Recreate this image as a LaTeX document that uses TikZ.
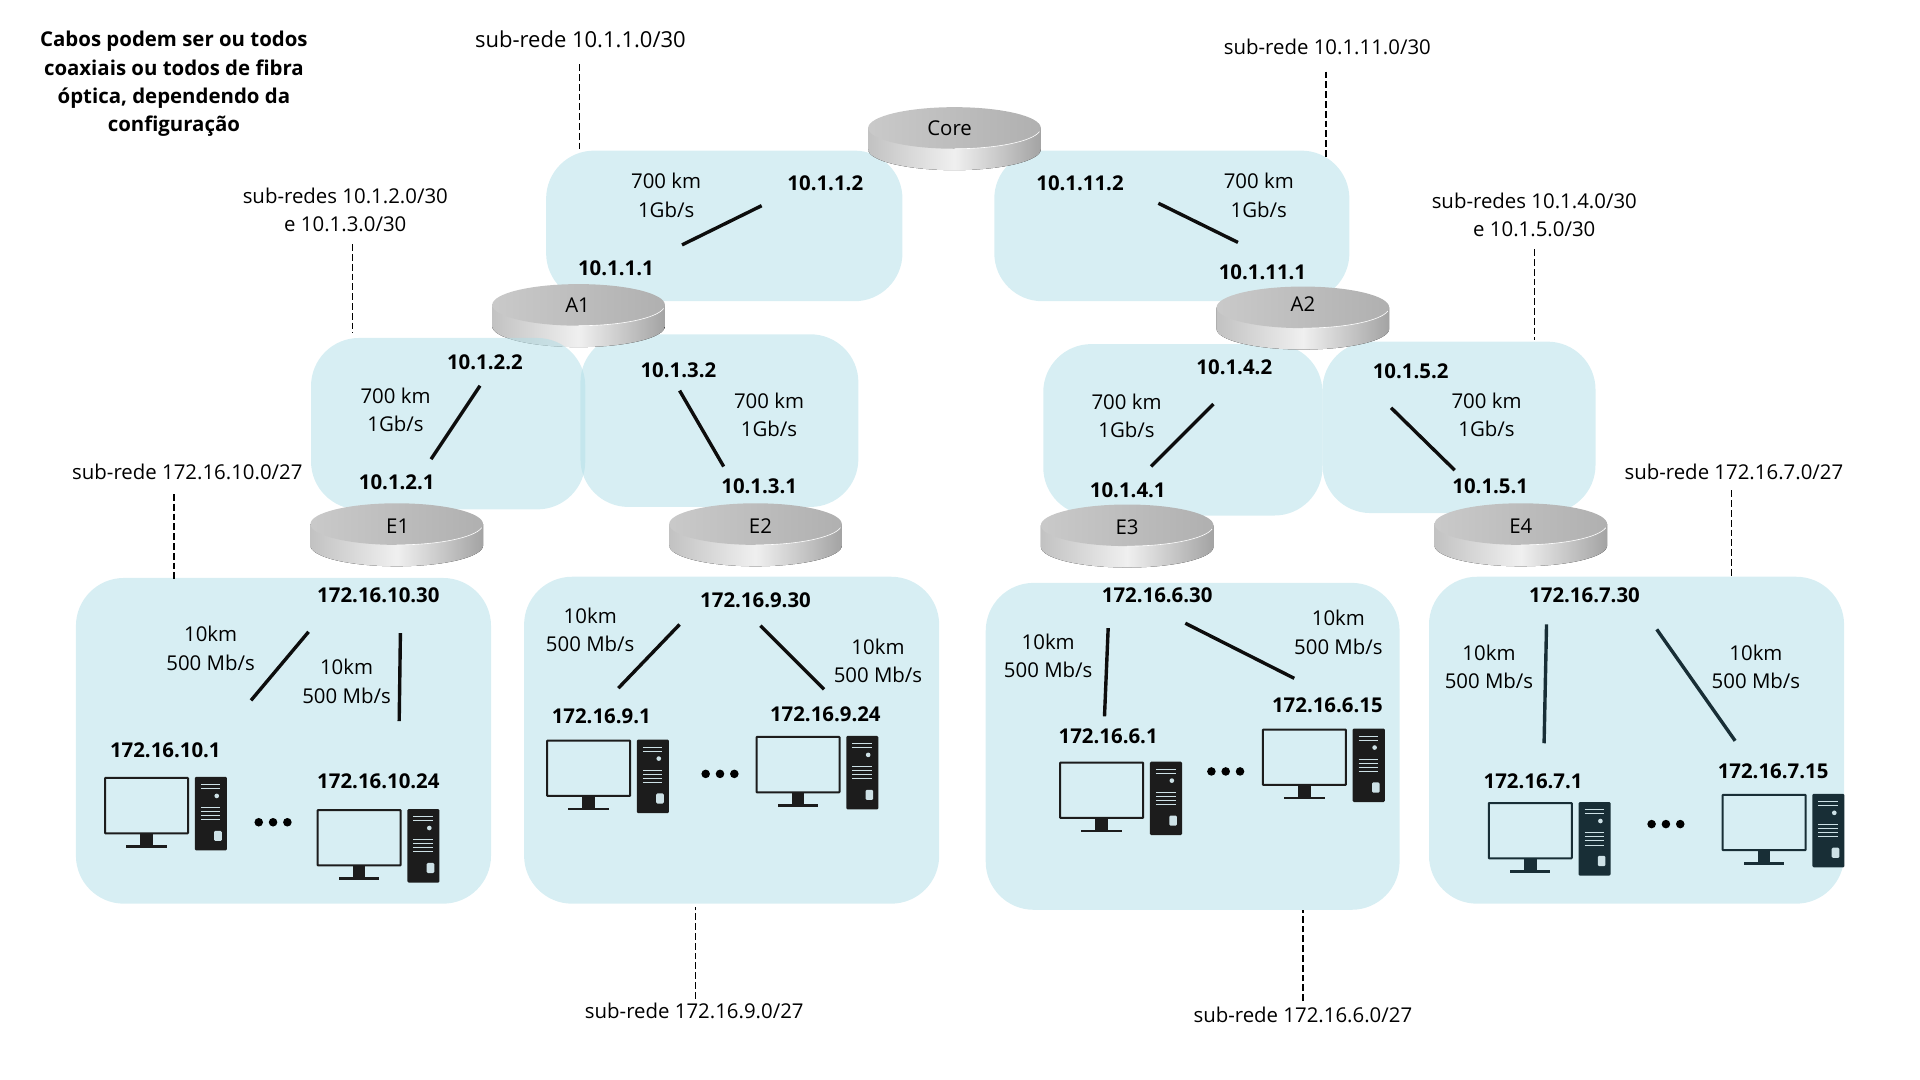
\documentclass[tikz,border=0pt]{standalone}
\usepackage{fontspec}
\setmainfont{Open Sans}
\usetikzlibrary{shapes.geometric,positioning,fit,calc}
\definecolor{subnetblue}{RGB}{176,222,231}
\definecolor{iconblack}{RGB}{28,28,28}
\definecolor{iconteal}{RGB}{24,46,54}
\definecolor{icondetail}{RGB}{205,225,230}

\tikzset{
    txt/.style={font=\fontsize{10.2}{14.1}\selectfont, align=center, inner sep=0pt, yshift=-0.3pt},
    iplabel/.style={font=\fontsize{10.2}{14.1}\selectfont\bfseries, inner sep=0pt, yshift=-0.6pt},
    blob/.style={fill=subnetblue, fill opacity=0.5, rounded corners=24pt, inner sep=0pt},
    cable/.style={line width=1.7pt, draw=black!95, yshift=0.6pt},
    leader/.style={line width=0.65pt, dash pattern=on 3.4pt off 1.5pt},
    disctop/.style={ellipse, minimum width=86.3pt, minimum height=20.8pt, inner sep=0pt,
        left color=black!21, right color=black!31, font=\fontsize{10.2}{12}\selectfont},
    discside/.style={left color=black!24, right color=black!36, middle color=black!6},
}

% router disc: name, x, y, label
\newcommand{\routerdisc}[4]{
    \fill[discside] (#2,#3) ++(-43.16pt,0) -- ++(0,-10.7pt)
        arc[start angle=180, end angle=360, x radius=43.16pt, y radius=10.41pt] -- ++(0,10.7pt) -- cycle;
    \node[disctop] (#1) at (#2,#3) {#4};
    \draw[white, line width=0.3pt] (#2,#3) ++(0pt,-10.41pt)
        arc[start angle=270, end angle=350, x radius=43.16pt, y radius=10.41pt];
}

% label moved up or down inside its disc
\newcommand{\disclabel}[2]{\raisebox{#1}[7.5pt][0pt]{#2}}

% computer: x, y (top left of monitor), colour
\newcommand{\pcicon}[3]{
    \begin{scope}[shift={(#1,#2)}]
        \draw[#3, line width=1pt, rounded corners=0.3pt] (0.8,0.8) rectangle (68.6,46);
        \fill[#3] (29.4,46) rectangle (39.8,55.5);
        \fill[#3] (18,55.5) rectangle (51.2,57.7);
        \fill[#3, rounded corners=0.6pt] (74.1,0) rectangle (100.3,60);
        \draw[icondetail, line width=0.4pt] (79,6.3) -- (95,6.3) (79,9.3) -- (95,9.3);
        \draw[icondetail, line width=0.4pt] (79,25) -- (95,25) (79,28.3) -- (95,28.3) (79,31.6) -- (95,31.6) (79,35) -- (95,35);
        \fill[icondetail] (92,15.5) circle (1.9);
        \fill[icondetail, rounded corners=0.6pt] (89.9,44) rectangle (96.1,52.3);
    \end{scope}
}

% three dots between computers
\newcommand{\pcdots}[2]{
    \foreach \dotx in {-11.7,0,11.7} \fill[black] (#1+\dotx,#2) circle (3.5);
}

\begin{document}
\begin{tikzpicture}[x=0.61224pt, y=-0.61224pt]
\useasboundingbox (0,0) rectangle (1568,882);

% Backbone links and the blobs under the discs
\node[blob, fit={(446,123) (737,246)}] (netCoreA) {};
\node[blob, fit={(812,123) (1102,246)}] (netCoreB) {};
\node[blob, fit={(474,273) (701,414)}] (netAoneEtwo) {};
\node[blob, fit={(852,281) (1080,421)}] (netAtwoEthree) {};
\node[blob, fit={(1080,279) (1303,419)}] (netAtwoEfour) {};

% Core and aggregation discs
\routerdisc{core}{779.5}{104.5}{Core\hspace*{4.9pt}}
\routerdisc{aone}{472.5}{249}{\disclabel{0pt}{A1}\hspace*{1pt}}
\routerdisc{atwo}{1064}{251}{\disclabel{1.6pt}{A2}}

% This one lies over A1
\node[blob, fit={(254,276) (478,416)}] (netAoneEone) {};

% Edge discs
\routerdisc{eone}{324}{428}{\hspace*{1pt}\disclabel{-1.2pt}{E1}}
\routerdisc{etwo}{617}{428}{\hspace*{4.9pt}\disclabel{-1.2pt}{E2}}
\routerdisc{ethree}{920.5}{429}{\disclabel{-0.6pt}{E3}}
\routerdisc{efour}{1242}{428}{\disclabel{-1.2pt}{E4}}

% LANs
\node[blob, fit={(62,472) (401,738)}] (lanEone) {};
\node[blob, fit={(428,471) (767,738)}] (lanEtwo) {};
\node[blob, fit={(805,476) (1143,743)}] (lanEthree) {};
\node[blob, fit={(1167,471) (1506,738)}] (lanEfour) {};

% Note
\node[txt, font=\fontsize{10.2}{14.1}\selectfont\bfseries] (note) at (142,68) {Cabos podem ser ou todos\\coaxiais ou todos de fibra\\óptica, dependendo da\\configuração};

% Subnet labels
\node[txt, font=\fontsize{11}{14.1}\selectfont] (subA) at (474,32) {sub-rede 10.1.1.0/30};
\node[txt] (subB) at (1084,38) {sub-rede 10.1.11.0/30};
\node[txt] (subC) at (282,171) {sub-redes 10.1.2.0/30\\e 10.1.3.0/30};
\node[txt] (subD) at (1253,175) {sub-redes 10.1.4.0/30\\e 10.1.5.0/30};
\node[txt] (subE) at (153,385) {sub-rede 172.16.10.0/27};
\node[txt] (subF) at (1416,385) {sub-rede 172.16.7.0/27};
\node[txt] (subG) at (567,825) {sub-rede 172.16.9.0/27};
\node[txt] (subH) at (1064,828) {sub-rede 172.16.6.0/27};

% Free ends of the leaders
\coordinate (tipA) at (473,123);
\coordinate (tipB) at (1083,129);
\coordinate (tipC) at (288,272);
\coordinate (tipD) at (1253,278);
\coordinate (tipE) at (142,474);
\coordinate (tipF) at (1414,471);
\coordinate (tipG) at (568,741);
\coordinate (tipH) at (1064,743);

\draw[leader] ([shift={(-1,20)}]subA.center) -- (tipA);
\draw[leader] ([shift={(-1,20)}]subB.center) -- (tipB);
\draw[leader] ([shift={(6,28)}]subC.center) -- (tipC);
\draw[leader] ([shift={(0,28)}]subD.center) -- (tipD);
\draw[leader] ([shift={(-11,18)}]subE.center) -- (tipE);
\draw[leader] ([shift={(-2,15)}]subF.center) -- (tipF);
\draw[leader] ([shift={(1,-10)}]subG.center) -- (tipG);
\draw[leader] ([shift={(0,-11)}]subH.center) -- (tipH);

% Link data
\node[txt] (rateA) at (544,159) {700 km\\1Gb/s};
\node[txt] (rateB) at (1028,159) {700 km\\1Gb/s};
\node[txt] (rateC) at (323,334) {700 km\\1Gb/s};
\node[txt] (rateD) at (628,338) {700 km\\1Gb/s};
\node[txt] (rateE) at (920,339) {700 km\\1Gb/s};
\node[txt] (rateF) at (1214,338) {700 km\\1Gb/s};
\node[txt] (rateG) at (172,529) {10km\\500 Mb/s};
\node[txt] (rateH) at (283,556) {10km\\500 Mb/s};
\node[txt] (rateI) at (482,514) {10km\\500 Mb/s};
\node[txt] (rateJ) at (717,539) {10km\\500 Mb/s};
\node[txt] (rateK) at (856,535) {10km\\500 Mb/s};
\node[txt] (rateL) at (1093,516) {10km\\500 Mb/s};
\node[txt] (rateM) at (1216,544) {10km\\500 Mb/s};
\node[txt] (rateN) at (1434,544) {10km\\500 Mb/s};

% Addresses
\node[iplabel] (ipA) at (674,149) {10.1.1.2};
\node[iplabel] (ipB) at (503,218) {10.1.1.1};
\node[iplabel] (ipC) at (882,149) {10.1.11.2};
\node[iplabel] (ipD) at (1031,221) {10.1.11.1};
\node[iplabel] (ipE) at (396,295) {10.1.2.2};
\node[iplabel] (ipF) at (324,393) {10.1.2.1};
\node[iplabel] (ipG) at (554,301) {10.1.3.2};
\node[iplabel] (ipH) at (620,396) {10.1.3.1};
\node[iplabel] (ipI) at (1008,299) {10.1.4.2};
\node[iplabel] (ipJ) at (921,399) {10.1.4.1};
\node[iplabel] (ipK) at (1152,302) {10.1.5.2};
\node[iplabel] (ipL) at (1217,396) {10.1.5.1};

\node[iplabel] (hostA) at (309,485) {172.16.10.30};
\node[iplabel] (hostB) at (135,612) {172.16.10.1};
\node[iplabel] (hostC) at (309,637) {172.16.10.24};
\node[iplabel] (hostD) at (617,489) {172.16.9.30};
\node[iplabel] (hostE) at (491,584) {172.16.9.1};
\node[iplabel] (hostF) at (674,582) {172.16.9.24};
\node[iplabel] (hostG) at (945,485) {172.16.6.30};
\node[iplabel] (hostH) at (905,600) {172.16.6.1};
\node[iplabel] (hostI) at (1084,575) {172.16.6.15};
\node[iplabel] (hostJ) at (1294,485) {172.16.7.30};
\node[iplabel] (hostK) at (1252,637) {172.16.7.1};
\node[iplabel] (hostL) at (1448,629) {172.16.7.15};

% Cables
\draw[cable] ([shift={(54,-19)}]ipB.center) -- ([shift={(-52,18)}]ipA.center);
\draw[cable] ([shift={(64,16)}]ipC.center) -- ([shift={(-20,-24)}]ipD.center);
\draw[cable] ([shift={(-4,19)}]ipE.center) -- ([shift={(28,-19)}]ipF.center);
\draw[cable] ([shift={(1,17)}]ipG.center) -- ([shift={(-29,-16)}]ipH.center);
\draw[cable] ([shift={(-17,30)}]ipI.center) -- ([shift={(19,-19)}]ipJ.center);
\draw[cable] ([shift={(-16,30)}]ipK.center) -- ([shift={(-29,-13)}]ipL.center);

\draw[cable] ([shift={(-57,30)}]hostA.center) -- ([shift={(70,-41)}]hostB.center);
\draw[cable] ([shift={(18,31)}]hostA.center) -- ([shift={(17,-49)}]hostC.center);
\draw[cable] ([shift={(-62,20)}]hostD.center) -- ([shift={(14,-23)}]hostE.center);
\draw[cable] ([shift={(4,21)}]hostD.center) -- ([shift={(-1,-20)}]hostF.center);
\draw[cable] ([shift={(-40,27)}]hostG.center) -- ([shift={(-3,-16)}]hostH.center);
\draw[cable] ([shift={(23,23)}]hostG.center) -- ([shift={(-27,-22)}]hostI.center);
\draw[cable, draw=iconteal] ([shift={(-31,24)}]hostJ.center) -- ([shift={(9,-31)}]hostK.center);
\draw[cable, draw=iconteal] ([shift={(59,28)}]hostJ.center) -- ([shift={(-31,-25)}]hostL.center);

% Computers
\pcicon{85}{634.5}{iconblack}
\pcicon{258.6}{660.7}{iconblack}
\pcdots{223}{671.5}
\pcicon{446}{604}{iconblack}
\pcicon{617}{601}{iconblack}
\pcdots{588}{632}
\pcicon{865}{622}{iconblack}
\pcicon{1030.6}{595}{iconblack}
\pcdots{1001}{630}
\pcicon{1215}{655}{iconteal}
\pcicon{1406}{648.3}{iconteal}
\pcdots{1360.5}{673}

\end{tikzpicture}
\end{document}
